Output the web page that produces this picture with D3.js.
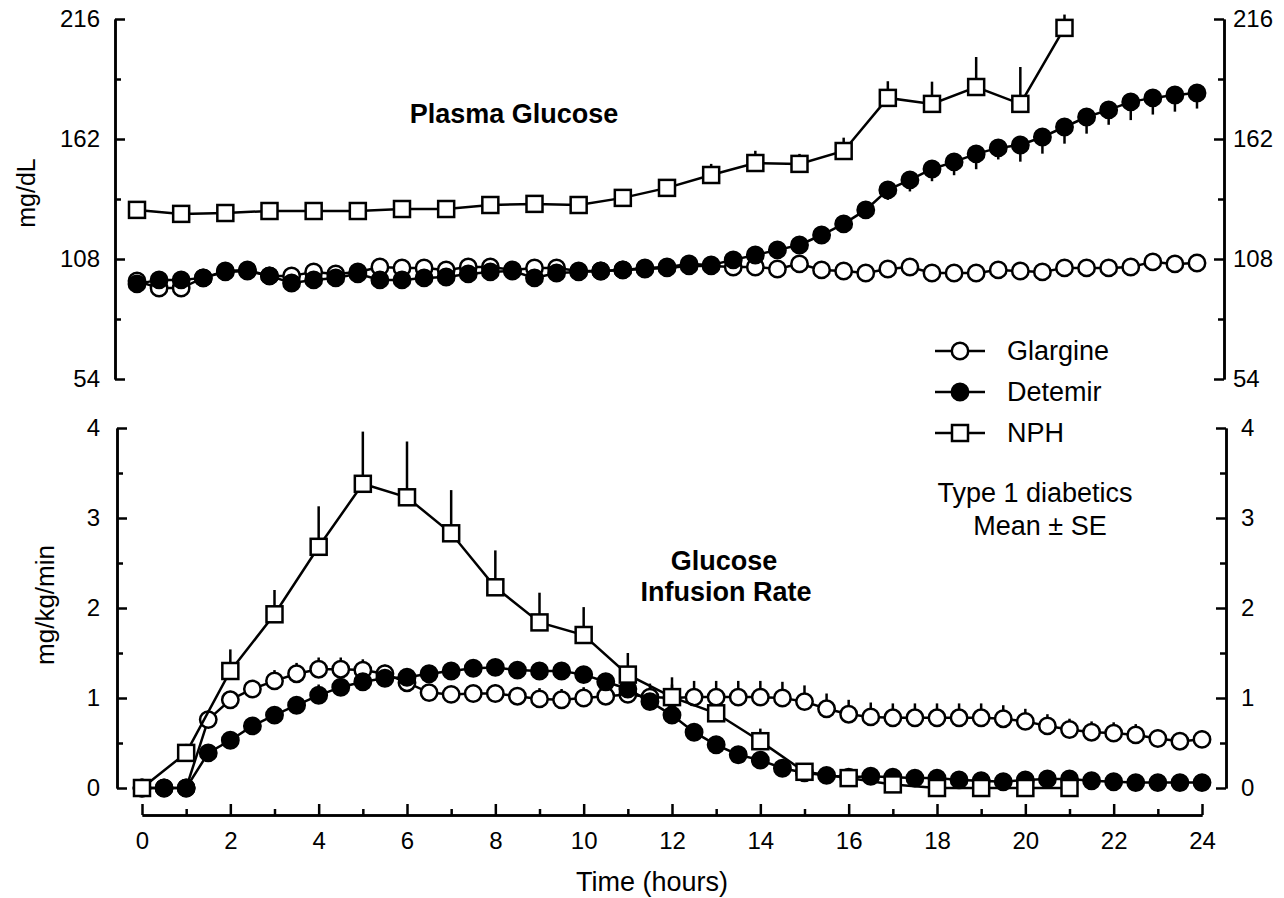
<!DOCTYPE html>
<html>
<head>
<meta charset="utf-8">
<script src="https://cdn.jsdelivr.net/npm/d3@7"></script>
<style>
body { margin: 0; background: #fff; }
svg { font-family: "Liberation Sans", Arial, sans-serif; }
.axis path, .axis line { stroke: #000; stroke-width: 2.5; }
.axis text { font-size: 24px; fill: #000; font-family: "Liberation Sans", Arial, sans-serif; }
</style>
</head>
<body>
<script>
// sampling times (hours)
var halfHours = [0, 0.5, 1, 1.5, 2, 2.5, 3, 3.5, 4, 4.5, 5, 5.5, 6, 6.5, 7, 7.5, 8, 8.5, 9, 9.5,
    10, 10.5, 11, 11.5, 12, 12.5, 13, 13.5, 14, 14.5, 15, 15.5, 16, 16.5, 17, 17.5, 18, 18.5, 19, 19.5,
    20, 20.5, 21, 21.5, 22, 22.5, 23, 23.5, 24];
var hours = [0, 1, 2, 3, 4, 5, 6, 7, 8, 9, 10, 11, 12, 13, 14, 15, 16, 17, 18, 19, 20, 21];

// plasma glucose (mg/dL)
var glargineGlu = [98.1, 94.9, 94.9, 99.5, 102.2, 102.6, 100.4, 100.4, 102.2, 101.3,
    102.2, 104.4, 104.0, 104.0, 103.1, 104.4, 104.4, 103.1, 104.0, 104.0,
    102.6, 102.6, 103.1, 103.5, 104.0, 104.9, 104.9, 104.4, 104.4, 103.5,
    105.8, 103.1, 102.6, 101.7, 103.5, 104.4, 101.7, 101.7, 101.7, 103.1,
    102.6, 102.2, 104.0, 104.0, 104.0, 104.4, 106.7, 105.8, 106.2];
var glargineGluSE = [1.5, 1.5, 1.5, 1.5, 1.5, 1.5, 1.5, 1.5, 1.5, 1.5, 1.5, 1.5, 1.5, 1.5, 1.5, 1.5, 1.5,
    1.5, 1.5, 1.5, 1.5, 1.5, 1.5, 1.5, 1.5, 1.5, 1.5, 1.5, 1.5, 1.5, 1.5, 1.5, 1.5, 1.5, 1.5, 1.5, 1.5,
    1.5, 1.5, 1.5, 1.5, 1.5, 1.5, 1.5, 1.5, 1.5, 1.5, 1.5, 1.5];
var detemirGlu = [96.8, 98.6, 98.6, 99.5, 102.6, 103.1, 100.4, 97.2, 98.6, 99.5,
    101.3, 98.6, 98.6, 99.5, 99.9, 101.3, 102.2, 102.6, 99.5, 101.7,
    102.2, 102.6, 103.1, 104.0, 104.4, 105.8, 105.3, 107.6, 109.8, 112.1,
    114.3, 118.8, 123.8, 130.1, 139.1, 143.6, 148.5, 151.7, 155.3, 158.0,
    159.3, 162.9, 167.4, 171.9, 175.1, 178.7, 180.5, 181.8, 182.7];
var detemirGluSE = [1.5, 1.5, 1.5, 1.5, 1.5, 1.5, 1.5, 1.5, 1.5, 1.5, 1.5, 1.5, 1.5, 1.5, 1.5, 1.5,
    1.5, 1.5, 1.5, 1.5, 1.5, 1.5, 1.5, 1.5, 1.5, 1.5, 1.5, 1.5, 1.5, 1.5, 1.5, 1.5,
    2, 4, 4.5, 5.2, 5.5, 6, 6.9, 5.2, 7.5, 7.5, 7.5, 7.5, 6.7, 8.2, 7.5, 7.5, 7];
var nphGlu = [130.1, 128.3, 128.7, 129.6, 129.6, 129.6, 130.5, 130.5, 132.3, 132.8, 132.3,
    135.5, 140.0, 145.8, 151.2, 150.8, 156.6, 180.5, 177.8, 185.4, 177.8, 212.0];
var nphGluSE = [1, 1, 1, 1, 1, 1, 1, 1, 1, 1, 1, 1, 2, 5, 5.5, 4.5, 6, 7.5, 10, 13.5, 16.6, 6];

// glucose infusion rate (mg/kg/min)
var glargineGir = [0, 0, 0, 0.76, 0.98, 1.10, 1.19, 1.27, 1.32, 1.32,
    1.31, 1.27, 1.17, 1.06, 1.04, 1.05, 1.05, 1.02, 0.99, 0.98,
    1.00, 1.02, 1.04, 1.01, 1.00, 1.01, 1.01, 1.01, 1.01, 1.00,
    0.96, 0.88, 0.82, 0.79, 0.78, 0.78, 0.78, 0.78, 0.78, 0.77,
    0.74, 0.69, 0.65, 0.62, 0.61, 0.59, 0.55, 0.52, 0.54];
var glargineGirSE = [0, 0, 0, 0.1, 0.1, 0.1, 0.12, 0.12, 0.13, 0.13,
    0.12, 0.1, 0.1, 0.08, 0.08, 0.08, 0.1, 0.1, 0.12, 0.12,
    0.12, 0.12, 0.12, 0.15, 0.15, 0.18, 0.18, 0.18, 0.18, 0.18,
    0.18, 0.17, 0.16, 0.16, 0.16, 0.16, 0.16, 0.16, 0.16, 0.15,
    0.14, 0.13, 0.12, 0.12, 0.12, 0.12, 0.1, 0.1, 0.1];
var detemirGir = [0, 0, 0, 0.39, 0.53, 0.69, 0.81, 0.92, 1.03, 1.12,
    1.18, 1.22, 1.23, 1.27, 1.30, 1.33, 1.34, 1.31, 1.30, 1.30,
    1.26, 1.18, 1.10, 0.96, 0.81, 0.62, 0.48, 0.37, 0.31, 0.22,
    0.17, 0.14, 0.12, 0.13, 0.12, 0.11, 0.11, 0.09, 0.08, 0.07,
    0.09, 0.10, 0.10, 0.08, 0.07, 0.06, 0.06, 0.06, 0.06];
var detemirGirSE = [0, 0, 0, 0.05, 0.05, 0.06, 0.08, 0.1, 0.12, 0.08,
    0.06, 0.05, 0.05, 0.05, 0.05, 0.05, 0.05, 0.05, 0.05, 0.05,
    0.05, 0.05, 0.05, 0.05, 0.05, 0.05, 0.05, 0.05, 0.05, 0.05,
    0.03, 0.03, 0.03, 0.03, 0.03, 0.03, 0.03, 0.03, 0.03, 0.03,
    0.03, 0.03, 0.03, 0.03, 0.03, 0.03, 0.03, 0.03, 0.03];
var nphGir = [0, 0.39, 1.30, 1.93, 2.68, 3.38, 3.23, 2.83, 2.23, 1.84, 1.70,
    1.26, 1.01, 0.83, 0.52, 0.18, 0.11, 0.04, 0, 0, 0, 0];
var nphGirSE = [0, 0.1, 0.24, 0.27, 0.45, 0.58, 0.62, 0.48, 0.41, 0.33, 0.31,
    0.24, 0.22, 0.05, 0.14, 0.05, 0.03, 0.02, 0.02, 0.02, 0.02, 0.02];

// axis ticks
var gluTicks = [54, 108, 162, 216];
var gluMinor = [81, 135, 189];
var girTicks = [0, 1, 2, 3, 4];
var girMinor = [0.5, 1.5, 2.5, 3.5];
var timeTicks = [0, 2, 4, 6, 8, 10, 12, 14, 16, 18, 20, 22, 24];
var timeMinor = [1, 3, 5, 7, 9, 11, 13, 15, 17, 19, 21, 23];

var legendNames = ["Glargine", "Detemir", "NPH"];

var svg = d3.select("body").append("svg")
    .attr("width", 1284)
    .attr("height", 898);

svg.append("rect").attr("width", 1284).attr("height", 898).attr("fill", "#fff");

// scales
var xTop = d3.scaleLinear().domain([0, 24]).range([137, 1197]);
var xBot = d3.scaleLinear().domain([0, 24]).range([142, 1202]);
var yTop = d3.scaleLinear().domain([54, 216]).range([379, 19]);
var yBot = d3.scaleLinear().domain([0, 4]).range([788, 428]);

var fmt = d3.format("d");

// y axes, ticks pointing inward
function yAxes(y, major, minor, xl, xr, padL, padR) {
    svg.append("g").attr("class", "axis")
        .attr("transform", "translate(" + xl + ",0)")
        .call(d3.axisLeft(y).tickValues(minor).tickSize(-6).tickSizeOuter(0).tickFormat(""));
    svg.append("g").attr("class", "axis")
        .attr("transform", "translate(" + xl + ",0)")
        .call(d3.axisLeft(y).tickValues(major).tickSize(-10).tickSizeOuter(0).tickPadding(padL).tickFormat(fmt));
    svg.append("g").attr("class", "axis")
        .attr("transform", "translate(" + xr + ",0)")
        .call(d3.axisRight(y).tickValues(minor).tickSize(-6).tickSizeOuter(0).tickFormat(""));
    svg.append("g").attr("class", "axis")
        .attr("transform", "translate(" + xr + ",0)")
        .call(d3.axisRight(y).tickValues(major).tickSize(-10).tickSizeOuter(0).tickPadding(padR).tickFormat(fmt));
}
yAxes(yTop, gluTicks, gluMinor, 115, 1224, 15, 9);
yAxes(yBot, girTicks, girMinor, 117, 1226, 17, 15);

// x axis
svg.append("g").attr("class", "axis")
    .attr("transform", "translate(0,815)")
    .call(d3.axisBottom(xBot).tickValues(timeMinor).tickSize(-6).tickSizeOuter(0).tickFormat(""));
svg.append("g").attr("class", "axis")
    .attr("transform", "translate(0,815)")
    .call(d3.axisBottom(xBot).tickValues(timeTicks).tickSize(-11).tickSizeOuter(0).tickPadding(17).tickFormat(fmt));

// draw one series: error bars, line, markers
function drawSeries(x, y, times, vals, errs, dir, shape) {
    var pts = times.map(function(t, i) { return {t: t, v: vals[i], e: errs[i]}; });
    var g = svg.append("g");

    g.selectAll("line.err").data(pts).enter().append("line")
        .attr("class", "err")
        .attr("x1", function(d) { return x(d.t); })
        .attr("x2", function(d) { return x(d.t); })
        .attr("y1", function(d) { return y(d.v); })
        .attr("y2", function(d) { return y(d.v + dir * d.e); })
        .attr("stroke", "#000")
        .attr("stroke-width", 2.5);

    var line = d3.line()
        .x(function(d) { return x(d.t); })
        .y(function(d) { return y(d.v); });

    g.append("path").datum(pts)
        .attr("d", line)
        .attr("fill", "none")
        .attr("stroke", "#000")
        .attr("stroke-width", 2.5);

    if (shape == "square") {
        g.selectAll("rect").data(pts).enter().append("rect")
            .attr("x", function(d) { return x(d.t) - 8; })
            .attr("y", function(d) { return y(d.v) - 8; })
            .attr("width", 16)
            .attr("height", 16)
            .attr("fill", "#fff")
            .attr("stroke", "#000")
            .attr("stroke-width", 2.5);
    } else {
        g.selectAll("circle").data(pts).enter().append("circle")
            .attr("cx", function(d) { return x(d.t); })
            .attr("cy", function(d) { return y(d.v); })
            .attr("r", 8.2)
            .attr("fill", shape == "filled" ? "#000" : "#fff")
            .attr("stroke", "#000")
            .attr("stroke-width", 2.5);
    }
}

// plasma glucose panel
drawSeries(xTop, yTop, halfHours, glargineGlu, glargineGluSE, 1, "open");
drawSeries(xTop, yTop, halfHours, detemirGlu, detemirGluSE, -1, "filled");
drawSeries(xTop, yTop, hours, nphGlu, nphGluSE, 1, "square");

// glucose infusion rate panel
drawSeries(xBot, yBot, halfHours, glargineGir, glargineGirSE, 1, "open");
drawSeries(xBot, yBot, halfHours, detemirGir, detemirGirSE, 1, "filled");
drawSeries(xBot, yBot, hours, nphGir, nphGirSE, 1, "square");

// legend
var shapes = ["open", "filled", "square"];
var leg = svg.append("g");
legendNames.forEach(function(name, i) {
    var ly = 351 + i * 41;
    leg.append("line")
        .attr("x1", 935).attr("x2", 985)
        .attr("y1", ly).attr("y2", ly)
        .attr("stroke", "#000").attr("stroke-width", 2.5);
    if (shapes[i] == "square") {
        leg.append("rect")
            .attr("x", 960 - 8).attr("y", ly - 8)
            .attr("width", 16).attr("height", 16)
            .attr("fill", "#fff").attr("stroke", "#000").attr("stroke-width", 2.5);
    } else {
        leg.append("circle")
            .attr("cx", 960).attr("cy", ly).attr("r", 8.2)
            .attr("fill", shapes[i] == "filled" ? "#000" : "#fff")
            .attr("stroke", "#000").attr("stroke-width", 2.5);
    }
    leg.append("text")
        .attr("x", 1007)
        .attr("y", ly + 9)
        .style("font-size", "27px")
        .text(name);
});

// panel titles and notes
svg.append("text")
    .attr("x", 514).attr("y", 123)
    .attr("text-anchor", "middle")
    .style("font-size", "27px").style("font-weight", "bold")
    .text("Plasma Glucose");

svg.append("text")
    .attr("x", 724).attr("y", 570)
    .attr("text-anchor", "middle")
    .style("font-size", "27px").style("font-weight", "bold")
    .text("Glucose");
svg.append("text")
    .attr("x", 726).attr("y", 601)
    .attr("text-anchor", "middle")
    .style("font-size", "27px").style("font-weight", "bold")
    .text("Infusion Rate");

svg.append("text")
    .attr("x", 1035).attr("y", 502)
    .attr("text-anchor", "middle")
    .style("font-size", "27px")
    .text("Type 1 diabetics");
svg.append("text")
    .attr("x", 1040).attr("y", 535)
    .attr("text-anchor", "middle")
    .style("font-size", "27px")
    .text("Mean \u00b1 SE");

// axis titles
svg.append("text")
    .attr("x", 652).attr("y", 891)
    .attr("text-anchor", "middle")
    .style("font-size", "27px")
    .text("Time (hours)");

svg.append("text")
    .attr("transform", "translate(35,193) rotate(-90)")
    .attr("text-anchor", "middle")
    .style("font-size", "25px")
    .text("mg/dL");

svg.append("text")
    .attr("transform", "translate(54,605) rotate(-90)")
    .attr("text-anchor", "middle")
    .style("font-size", "26px")
    .text("mg/kg/min");
</script>
</body>
</html>
